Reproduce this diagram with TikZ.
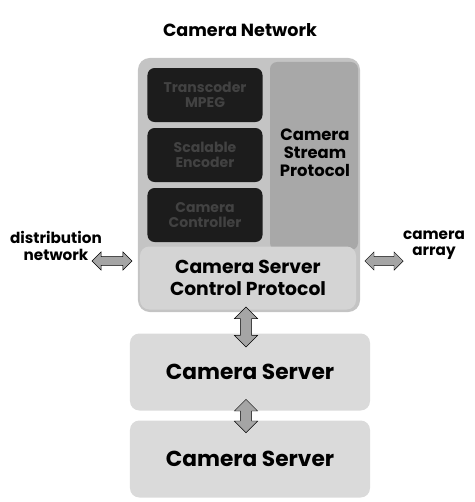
\documentclass[tikz,border=0pt]{standalone}
\usepackage{fontspec}
\setmainfont{Poppins}
\usepackage{tikz}
\usetikzlibrary{shapes.arrows, positioning, calc}
\definecolor{panelcolor}{RGB}{196,196,196}
\definecolor{streamcolor}{RGB}{168,168,168}
\definecolor{controlcolor}{RGB}{212,212,212}
\definecolor{codeccolor}{RGB}{28,28,28}
\definecolor{codectext}{RGB}{66,66,66}
\definecolor{servercolor}{RGB}{218,218,218}
\definecolor{arrowcolor}{RGB}{165,165,165}
\tikzstyle{panel} = [rectangle, fill=panelcolor, rounded corners=10pt, minimum width=6.66cm, minimum height=7.62cm]
\tikzstyle{codec} = [rectangle, fill=codeccolor, text=codectext, rounded corners=6pt, minimum width=3.45cm, minimum height=1.62cm, align=center, font=\bfseries\fontsize{12}{13}\selectfont]
\tikzstyle{server} = [rectangle, fill=servercolor, rounded corners=8pt, minimum width=7.2cm, minimum height=2.31cm, font=\bfseries\fontsize{18.5}{21}\selectfont]
\tikzstyle{dblarrow} = [double arrow, draw=black, fill=arrowcolor, inner sep=2.5pt, double arrow head extend=3pt]
\tikzstyle{label} = [align=center, font=\bfseries\fontsize{13}{14}\selectfont]

\begin{document}
\begin{tikzpicture}[x=0.03cm, y=-0.03cm]
    \useasboundingbox (0,0) rectangle (474,502);
    % Title
    \node[font=\bfseries\fontsize{15}{18}\selectfont] (title) at (240, 30) {Camera Network};

    % Camera network panel
    \node[panel] (net) at (249, 185) {};
    \node[rectangle, fill=streamcolor, rounded corners=6pt, minimum width=2.64cm, minimum height=5.64cm] (stream) at (314, 156) {};
    \node[label, font=\bfseries\fontsize{14}{15.5}\selectfont] (streamtxt) at (315, 153) {Camera\\Stream\\Protocol};
    \node[codec] (mpeg) at (205, 95) {Transcoder\\MPEG};
    \node[codec] (scal) at (205, 155) {Scalable\\Encoder};
    \node[codec] (ctrl) at (205, 215) {Camera\\Controller};
    \node[rectangle, fill=controlcolor, rounded corners=8pt, minimum width=6.48cm, minimum height=1.89cm, align=center, font=\bfseries\fontsize{16}{19}\selectfont] (proto) at (248, 278) {Camera Server\\Control Protocol};

    % Outside links
    \node[label] (dist) at (56, 246) {distribution\\network};
    \node[dblarrow, minimum height=1.2cm, minimum width=0.55cm] (distarr) at (112, 261) {};
    \node[label] (array) at (434, 245) {camera\\array};
    \node[dblarrow, minimum height=1.15cm, minimum width=0.55cm] (arrayarr) at (384, 261) {};

    % Camera servers
    \node[server] (srv1) at (250, 372) {Camera Server};
    \node[server] (srv2) at (250, 459) {Camera Server};
    \node[dblarrow, rotate=90, minimum height=1.2cm, minimum width=0.7cm] (up1) at (246, 327) {};
    \node[dblarrow, rotate=90, minimum height=1.0cm, minimum width=0.7cm] (up2) at (246, 416) {};
\end{tikzpicture}
\end{document}
